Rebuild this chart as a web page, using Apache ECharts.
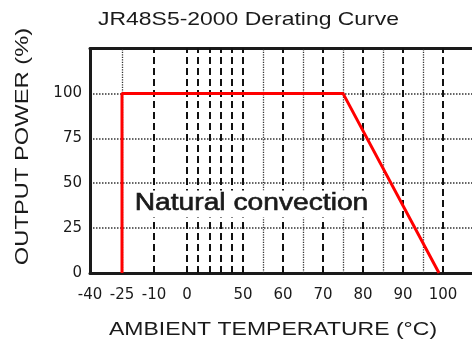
<!DOCTYPE html>
<html><head><meta charset="utf-8">
<script src="https://cdn.jsdelivr.net/npm/echarts@6/dist/echarts.min.js"></script>
<style>html,body{margin:0;padding:0;background:#fff}#chart{width:472px;height:343px}</style>
</head><body><div id="chart"></div>
<script>
// ---------- texts ----------
const titleText = 'JR48S5-2000 Derating Curve';
const xAxisTitle = 'AMBIENT TEMPERATURE (°C)';
const yAxisTitle = 'OUTPUT POWER (%)';
const curveLabel = 'Natural convection';

// ---------- data ----------
const xTickLabels = [-40, -25, -10, 0, 50, 60, 70, 80, 90, 100];
const yTickLabels = [0, 25, 50, 75, 100];
const deratingTemp = [-25, -25, 75, 99];
const deratingPower = [0, 100, 100, 0];
const gridDashedTemps = [-10, 0, 10, 20, 30, 40, 50, 60, 70, 80, 90, 100];
const gridDottedTemps = [-25, 55, 65, 75, 85, 95];

// ---------- the drawing's non-linear temperature scale (piecewise linear) ----------
const scaleTemp = [-40, -25, -10, 0, 50, 100];
const scaleUnit = [0, 32, 64, 97, 153, 353];
function toAxis(t) {
  let i = 0;
  while (i < scaleTemp.length - 2 && t > scaleTemp[i + 1]) i++;
  const t0 = scaleTemp[i], t1 = scaleTemp[i + 1], u0 = scaleUnit[i], u1 = scaleUnit[i + 1];
  return u0 + (t - t0) * (u1 - u0) / (t1 - t0);
}
const labelByUnit = {};
xTickLabels.forEach(t => { labelByUnit[Math.round(toAxis(t) * 1000)] = String(t); });

const ink = '#1a1a1a';
const chart = echarts.init(document.getElementById('chart'));
const dashedStyle = { color: '#111', width: 2, type: [7, 4] };
const dottedStyle = { color: '#333', width: 1.3, type: [1.2, 1.3] };

chart.setOption({
  animation: false,
  backgroundColor: '#fff',
  grid: { left: 90, top: 48.5, width: 400, height: 224.5, outerBoundsMode: 'none', containLabel: false },
  xAxis: [{
    type: 'value', min: 0, max: 400,
    axisLine: { show: true, lineStyle: { color: ink, width: 3 } },
    axisTick: { show: false },
    splitLine: { show: false },
    axisLabel: {
      customValues: xTickLabels.map(toAxis),
      formatter: v => labelByUnit[Math.round(v * 1000)] || '',
      margin: 15, fontSize: 15, fontFamily: 'DejaVu Sans', color: ink
    }
  }, {
    type: 'value', min: 0, max: 400, position: 'top',
    axisLine: { show: true, lineStyle: { color: ink, width: 3 } },
    axisTick: { show: false }, axisLabel: { show: false }, splitLine: { show: false }
  }],
  yAxis: {
    type: 'value', min: 0, max: 125, interval: 25,
    axisLine: { show: true, lineStyle: { color: ink, width: 3 } },
    axisTick: { show: false },
    axisLabel: {
      formatter: v => yTickLabels.indexOf(v) >= 0 ? String(v) : '',
      margin: 8, fontSize: 15, fontFamily: 'DejaVu Sans', color: ink
    },
    splitLine: { show: true, showMinLine: false, showMaxLine: false,
      lineStyle: { color: '#333', width: 1.5, type: [1.5, 1.5] } }
  },
  graphic: [
    { type: 'text', x: 248.5, y: 19.5, scaleX: 1.24,
      style: { text: titleText, fontFamily: 'Liberation Sans', fontSize: 18.5, fill: ink, align: 'center', verticalAlign: 'middle' } },
    { type: 'text', x: 273, y: 330, scaleX: 1.21,
      style: { text: xAxisTitle, fontFamily: 'Liberation Sans', fontSize: 19, fill: ink, align: 'center', verticalAlign: 'middle' } },
    { type: 'text', x: 23, y: 146.5, rotation: Math.PI / 2, scaleX: 1.25,
      style: { text: yAxisTitle, fontFamily: 'Liberation Sans', fontSize: 19, fill: ink, align: 'center', verticalAlign: 'middle' } },
    { type: 'text', x: 251.5, y: 204, scaleX: 1.2, z: 10,
      style: { text: curveLabel, fontFamily: 'Liberation Sans', fontSize: 23.5, fill: ink,
        stroke: ink, lineWidth: 0.6, align: 'center', verticalAlign: 'middle',
        backgroundColor: '#fff', padding: [2, 1, 1, 1] } }
  ],
  series: [{
    type: 'line', data: [], silent: true,
    markLine: {
      silent: true, z: 1, symbol: ['none', 'none'], label: { show: false },
      data: gridDashedTemps.map(t => ({ xAxis: toAxis(t), lineStyle: dashedStyle }))
        .concat(gridDottedTemps.map(t => ({ xAxis: toAxis(t), lineStyle: dottedStyle })))
    }
  }, {
    type: 'line', z: 6, symbol: 'none',
    data: deratingTemp.map((t, i) => [toAxis(t), deratingPower[i]]),
    lineStyle: { color: '#ff0000', width: 3 }
  }]
});
</script></body></html>
